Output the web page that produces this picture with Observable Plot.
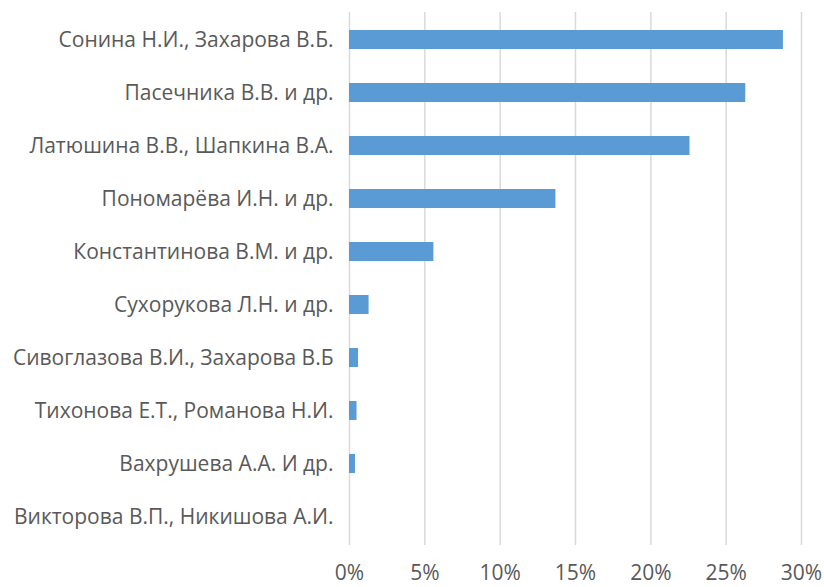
<!DOCTYPE html>
<html><head><meta charset="utf-8">
<script src="https://cdn.jsdelivr.net/npm/d3@7"></script>
<script src="https://cdn.jsdelivr.net/npm/@observablehq/plot@0.6"></script>
<style>body{margin:0;background:#fff;} svg{display:block;}</style>
</head><body><div id="chart"></div>
<script>
const authors = [
  "Сонина Н.И., Захарова В.Б.",
  "Пасечника В.В. и др.",
  "Латюшина В.В., Шапкина В.А.",
  "Пономарёва И.Н. и др.",
  "Константинова В.М. и др.",
  "Сухорукова Л.Н. и др.",
  "Сивоглазова В.И., Захарова В.Б",
  "Тихонова Е.Т., Романова Н.И.",
  "Вахрушева А.А. И др.",
  "Викторова В.П., Никишова А.И."
];
const shares = [0.288, 0.263, 0.226, 0.137, 0.056, 0.013, 0.006, 0.005, 0.004, 0];
const xTicks = [0, 0.05, 0.10, 0.15, 0.20, 0.25, 0.30];
const data = authors.map((a, i) => ({author: a, share: shares[i]}));

const chart = Plot.plot({
  width: 824, height: 587,
  marginLeft: 349, marginRight: 23, marginTop: 12, marginBottom: 42,
  style: {fontFamily: "'Open Sans', sans-serif", color: "#595959", background: "#fff"},
  x: {domain: [0, 0.30], axis: null},
  y: {domain: authors, paddingInner: 0.64, paddingOuter: 0.32, axis: null},
  marks: [
    Plot.gridX(xTicks, {stroke: "#d9d9d9", strokeOpacity: 1, strokeWidth: 1.5}),
    Plot.barX(data, {x: "share", y: "author", fill: "#5b9bd5"}),
    Plot.axisX({ticks: xTicks, tickSize: 0, tickPadding: 20, tickFormat: d => Math.round(d*100) + "%", label: null, fontSize: 21}),
    Plot.axisY({tickSize: 0, tickPadding: 16, label: null, fontSize: 21})
  ]
});
document.getElementById("chart").appendChild(chart);
</script></body></html>
